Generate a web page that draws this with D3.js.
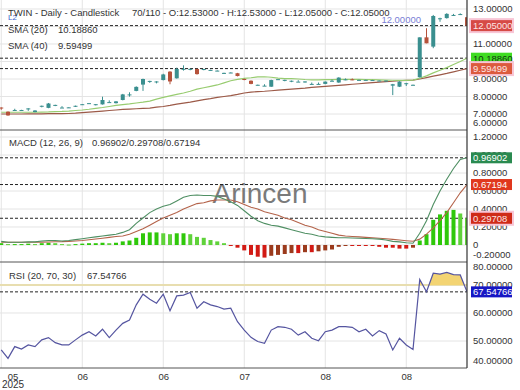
<!DOCTYPE html>
<html lang="en">
<head>
<meta charset="UTF-8">
<title>TWIN - Daily - Candlestick</title>
<style>
  body { margin: 0; background: #fff; }
  svg { display: block; font-family: "Liberation Sans", Arial, sans-serif; }
  .grid line { stroke: #e4e4e4; stroke-width: 1; }
  .axis text { font-size: 9.5px; fill: #333; }
  .legend { font-size: 9.5px; fill: #333; }
  .sep { stroke: #555; stroke-width: 1; }
</style>
</head>
<body>
<svg id="chart" width="520" height="390"></svg>
<script src="https://cdn.jsdelivr.net/npm/d3@7/dist/d3.min.js"></script>
<script>
// ---- data ----
const symbol = "TWIN";
const totalBars = 110;

const open = [
  7.37, 7.13, 7.21, 7.20, 7.30, 7.11, 7.44, 7.35, 7.50, 7.36,
  7.36, 7.45, 7.54, 7.60, 7.54, 7.55, 7.66, 7.62, 7.80, 8.08,
  8.32, 8.68, 8.87, 8.84, 8.94, 9.42, 9.04, 9.55, 9.56, 9.57,
  9.55, 9.50, 9.46, 9.30, 9.35, 9.33, 9.00, 8.90, 8.65, 8.60,
  8.56, 8.97, 8.93, 8.88, 8.84, 8.85, 8.70, 8.71, 8.72, 8.88,
  8.80, 8.97, 8.98, 8.94, 8.94, 8.93, 8.90, 8.90, 8.62, 8.56,
  8.73, 8.65, 9.10, 11.38, 10.85, 12.42, 12.48, 12.65, 12.70, 12.53
];
const high = [
  7.38, 7.15, 7.30, 7.24, 7.33, 7.22, 7.48, 7.63, 7.53, 7.45,
  7.39, 7.48, 7.57, 7.63, 7.57, 7.99, 7.78, 7.74, 8.15, 8.24,
  8.58, 9.02, 8.90, 8.87, 9.30, 9.45, 9.65, 9.78, 9.59, 9.60,
  9.58, 9.53, 9.49, 9.36, 9.38, 9.35, 9.02, 8.92, 8.68, 8.70,
  8.96, 9.00, 8.96, 8.91, 8.93, 8.87, 8.80, 8.80, 8.86, 8.97,
  9.10, 9.03, 9.03, 8.96, 8.96, 8.95, 8.92, 8.92, 8.72, 8.87,
  8.78, 8.68, 11.38, 11.90, 12.66, 12.50, 12.76, 12.72, 12.75, 12.53
];
const low = [
  7.24, 6.90, 7.20, 7.19, 7.18, 7.10, 7.38, 7.33, 7.45, 7.35,
  7.35, 7.40, 7.53, 7.59, 7.49, 7.54, 7.66, 7.60, 7.78, 7.99,
  8.30, 8.32, 8.78, 8.75, 8.92, 8.70, 9.02, 9.48, 9.50, 9.25,
  9.50, 9.49, 9.45, 9.29, 9.34, 9.15, 8.93, 8.70, 8.64, 8.60,
  8.55, 8.96, 8.87, 8.82, 8.84, 8.79, 8.70, 8.70, 8.70, 8.88,
  8.78, 8.93, 8.93, 8.93, 8.93, 8.92, 8.89, 8.89, 8.08, 8.54,
  8.60, 8.64, 9.08, 11.04, 10.76, 12.27, 12.45, 12.60, 12.66, 12.05
];
const close = [
  7.35, 6.92, 7.23, 7.23, 7.32, 7.20, 7.47, 7.60, 7.52, 7.37,
  7.38, 7.47, 7.56, 7.62, 7.56, 7.80, 7.68, 7.72, 8.12, 8.12,
  8.55, 9.00, 8.89, 8.86, 9.26, 8.86, 9.57, 9.58, 9.58, 9.28,
  9.57, 9.52, 9.48, 9.35, 9.37, 9.17, 8.95, 8.72, 8.67, 8.62,
  8.94, 8.99, 8.95, 8.90, 8.85, 8.86, 8.72, 8.72, 8.85, 8.90,
  9.08, 8.98, 8.97, 8.95, 8.95, 8.94, 8.91, 8.91, 8.70, 8.85,
  8.76, 8.67, 11.38, 11.04, 12.60, 12.47, 12.72, 12.66, 12.71, 12.05
];
const sma20 = [
  7.10, 7.10, 7.10, 7.10, 7.10, 7.10, 7.11, 7.12, 7.14, 7.15,
  7.17, 7.20, 7.23, 7.27, 7.32, 7.37, 7.43, 7.49, 7.54, 7.58,
  7.63, 7.68, 7.74, 7.85, 7.95, 8.04, 8.12, 8.20, 8.30, 8.42,
  8.50, 8.58, 8.66, 8.78, 8.90, 8.98, 9.04, 9.07, 9.12, 9.13,
  9.10, 9.05, 9.02, 9.02, 9.00, 8.97, 8.95, 8.95, 8.96, 8.97,
  8.98, 8.98, 8.98, 8.98, 8.97, 8.96, 8.95, 8.94, 8.93, 8.92,
  8.92, 8.94, 9.04, 9.18, 9.35, 9.50, 9.65, 9.83, 10.00, 10.1886
];
const sma40 = [
  7.00, 7.00, 7.00, 7.00, 7.01, 7.01, 7.01, 7.02, 7.02, 7.02,
  7.03, 7.05, 7.08, 7.11, 7.14, 7.17, 7.20, 7.23, 7.26, 7.28,
  7.30, 7.32, 7.34, 7.39, 7.43, 7.49, 7.56, 7.62, 7.68, 7.75,
  7.82, 7.88, 7.95, 8.00, 8.05, 8.12, 8.20, 8.25, 8.28, 8.30,
  8.33, 8.36, 8.39, 8.42, 8.45, 8.48, 8.52, 8.55, 8.58, 8.61,
  8.64, 8.67, 8.70, 8.73, 8.76, 8.79, 8.82, 8.85, 8.87, 8.90,
  8.92, 8.94, 9.00, 9.08, 9.16, 9.24, 9.32, 9.41, 9.50, 9.59499
];
const macd = [
  0.040, 0.030, 0.030, 0.030, 0.035, 0.035, 0.045, 0.050, 0.050, 0.045,
  0.050, 0.060, 0.070, 0.080, 0.090, 0.100, 0.110, 0.120, 0.140, 0.170,
  0.240, 0.300, 0.360, 0.400, 0.430, 0.450, 0.490, 0.530, 0.550, 0.555,
  0.550, 0.550, 0.540, 0.510, 0.480, 0.440, 0.380, 0.320, 0.270, 0.240,
  0.220, 0.210, 0.190, 0.170, 0.150, 0.130, 0.120, 0.100, 0.090, 0.085,
  0.080, 0.080, 0.078, 0.075, 0.073, 0.070, 0.065, 0.055, 0.040, 0.035,
  0.025, 0.020, 0.130, 0.270, 0.450, 0.600, 0.730, 0.850, 0.950, 0.96902
];
const signal = [
  0.030, 0.030, 0.030, 0.030, 0.030, 0.030, 0.032, 0.034, 0.036, 0.037,
  0.040, 0.045, 0.050, 0.058, 0.066, 0.075, 0.085, 0.095, 0.100, 0.120,
  0.150, 0.180, 0.220, 0.260, 0.300, 0.330, 0.360, 0.400, 0.430, 0.460,
  0.470, 0.490, 0.500, 0.500, 0.500, 0.480, 0.450, 0.420, 0.400, 0.370,
  0.350, 0.330, 0.300, 0.280, 0.250, 0.220, 0.200, 0.170, 0.150, 0.130,
  0.110, 0.100, 0.095, 0.090, 0.085, 0.080, 0.075, 0.070, 0.062, 0.055,
  0.048, 0.042, 0.065, 0.120, 0.190, 0.270, 0.360, 0.470, 0.580, 0.67194
];
const histogram = [
  0.020, 0.010, 0.010, 0.010, 0.015, 0.010, 0.020, 0.025, 0.020, 0.010,
  0.005, 0.010, 0.015, 0.020, 0.020, 0.025, 0.020, 0.025, 0.040, 0.050,
  0.080, 0.130, 0.140, 0.140, 0.130, 0.120, 0.130, 0.130, 0.120, 0.090,
  0.080, 0.055, 0.040, 0.020, -0.010, -0.030, -0.060, -0.110, -0.130, -0.140,
  -0.120, -0.110, -0.100, -0.090, -0.090, -0.080, -0.080, -0.070, -0.060, -0.050,
  -0.020, -0.010, -0.010, -0.010, -0.010, -0.010, -0.020, -0.030, -0.030, -0.040,
  -0.040, -0.030, 0.050, 0.120, 0.280, 0.340, 0.380, 0.390, 0.350, 0.29708
];
const rsi = [
  46.8, 43.8, 48.0, 47.1, 48.6, 48.0, 50.4, 51.2, 49.4, 48.6,
  48.6, 50.4, 52.1, 53.3, 51.8, 54.2, 51.2, 53.9, 56.3, 57.5,
  62.9, 66.7, 64.9, 63.5, 66.7, 60.8, 66.1, 66.4, 67.3, 61.7,
  64.0, 62.9, 62.3, 61.4, 61.7, 56.9, 53.9, 51.3, 49.8, 49.2,
  53.9, 55.1, 54.9, 54.2, 52.1, 53.3, 51.0, 50.1, 53.3, 53.9,
  55.1, 55.1, 54.9, 53.3, 54.2, 51.8, 53.7, 52.5, 46.8, 51.0,
  48.6, 47.0, 72.0, 67.6, 74.2, 73.9, 74.5, 73.7, 73.6, 67.54766
];

const tickIndex = [0, 12, 24, 36, 48, 60];
const tickLabel = ["05", "06", "06", "07", "08", "08"];
const yearLabel = "2025";
const priceTicks = [6, 7, 8, 9, 10, 11, 12, 13];
const macdTicks = [-0.2, 0, 0.2, 0.4, 0.6, 0.8, 1.0, 1.2];
const rsiTicks = [40, 50, 60, 70, 80];
const rsiUpper = 70;
const priceLevel = 12.0;

// ---- layout ----
const svg = d3.select("#chart");
const plotRight = 467;
const P = { price: [0, 130], macd: [130, 262], rsi: [262, 368] };
const n = close.length;
const last = n - 1;
const f5 = d3.format(".5f");

const x = d3.scaleLinear().domain([0, last]).range([1.25, plotRight]);
const yPrice = d3.scaleLinear().domain([6.086, 13.514]).range([P.price[1], P.price[0]]);
const yMacd = d3.scaleLinear().domain([-0.189, 1.278]).range([P.macd[1], P.macd[0]]);
const yRsi = d3.scaleLinear().domain([40.36, 78.21]).range([P.rsi[1], P.rsi[0]]);

const defs = svg.append("defs");
Object.entries(P).forEach(([k, [t, b]]) => {
  defs.append("clipPath").attr("id", "clip-" + k)
    .append("rect").attr("x", 0).attr("y", t).attr("width", plotRight).attr("height", b - t);
});
defs.append("clipPath").attr("id", "clip-rsi-over")
  .append("rect").attr("x", 0).attr("y", P.rsi[0]).attr("width", plotRight)
  .attr("height", yRsi(rsiUpper) - P.rsi[0]);

// gridlines
function grid(range, scale, ticks) {
  const g = svg.append("g").attr("class", "grid");
  g.selectAll(".v").data(tickIndex).join("line")
    .attr("x1", d => x(d)).attr("x2", d => x(d))
    .attr("y1", range[0]).attr("y2", range[1]);
  g.selectAll(".h").data(ticks.filter(t => scale(t) > range[0] && scale(t) < range[1])).join("line")
    .attr("x1", 0).attr("x2", plotRight)
    .attr("y1", d => scale(d)).attr("y2", d => scale(d));
}
grid(P.price, yPrice, priceTicks);
grid(P.macd, yMacd, macdTicks);
grid(P.rsi, yRsi, rsiTicks);

// watermark
svg.append("text").attr("x", 260).attr("y", 203).attr("text-anchor", "middle")
  .attr("font-size", 28).attr("fill", "#7a7a7a").text("Arincen");

// dashed last-value lines
function dashed(y) {
  svg.append("line").attr("x1", 0).attr("x2", plotRight).attr("y1", y).attr("y2", y)
    .attr("stroke", "#222").attr("stroke-width", 1).attr("stroke-dasharray", "3,2");
}
[yPrice(close[last]), yPrice(sma20[last]), yPrice(sma40[last]),
 yMacd(macd[last]), yMacd(signal[last]), yMacd(histogram[last]),
 yRsi(rsi[last])].forEach(dashed);

// ---- price panel ----
const gp = svg.append("g").attr("clip-path", "url(#clip-price)");
const idx = d3.range(n);
const smaLine = arr => d3.line().x(i => x(i)).y(i => yPrice(arr[i]));
gp.append("path").datum(idx).attr("d", smaLine(sma40))
  .attr("fill", "none").attr("stroke", "#9c5a48").attr("stroke-width", 1.2);
gp.append("path").datum(idx).attr("d", smaLine(sma20))
  .attr("fill", "none").attr("stroke", "#98cc70").attr("stroke-width", 1.2);

const upCol = "#3a8f8f", downCol = "#b5523b";
const candle = gp.selectAll(".candle").data(idx).join("g")
  .attr("fill", i => close[i] >= open[i] ? upCol : downCol)
  .attr("stroke", i => close[i] >= open[i] ? upCol : downCol);
candle.append("line")
  .attr("x1", i => x(i)).attr("x2", i => x(i))
  .attr("y1", i => yPrice(high[i])).attr("y2", i => yPrice(low[i]))
  .attr("stroke-width", 1);
candle.append("rect")
  .attr("x", i => x(i) - 2).attr("width", 4)
  .attr("y", i => yPrice(Math.max(open[i], close[i])))
  .attr("height", i => Math.max(1, Math.abs(yPrice(open[i]) - yPrice(close[i]))))
  .attr("stroke", "none");

svg.append("text").attr("x", 421).attr("y", 22.5).attr("text-anchor", "end")
  .attr("font-size", 9.5).attr("fill", "#7b7fd6").text(f5(priceLevel));

// ---- MACD panel ----
const gm = svg.append("g").attr("clip-path", "url(#clip-macd)");
gm.selectAll(".bar").data(idx).join("rect")
  .attr("x", i => x(i) - 2).attr("width", 4)
  .attr("y", i => yMacd(Math.max(0, histogram[i])))
  .attr("height", i => Math.max(1, Math.abs(yMacd(histogram[i]) - yMacd(0))))
  .attr("fill", i => {
    const prev = i > 0 ? histogram[i - 1] : histogram[i];
    if (histogram[i] >= 0) return histogram[i] >= prev ? "#2fc80a" : "#5fd23a";
    return histogram[i] <= prev ? "#d21a14" : "#9b3a1c";
  });
const mline = arr => d3.line().x(i => x(i)).y(i => yMacd(arr[i]));
gm.append("path").datum(idx).attr("d", mline(signal))
  .attr("fill", "none").attr("stroke", "#b4634a").attr("stroke-width", 1.1);
gm.append("path").datum(idx).attr("d", mline(macd))
  .attr("fill", "none").attr("stroke", "#4f8f63").attr("stroke-width", 1.1);

// ---- RSI panel ----
const gr = svg.append("g").attr("clip-path", "url(#clip-rsi)");
gr.append("line").attr("x1", 0).attr("x2", plotRight)
  .attr("y1", yRsi(rsiUpper)).attr("y2", yRsi(rsiUpper))
  .attr("stroke", "#e8deb0").attr("stroke-width", 2);
gr.append("g").attr("clip-path", "url(#clip-rsi-over)")
  .append("path").datum(idx)
  .attr("d", d3.area().x(i => x(i)).y0(yRsi(rsiUpper)).y1(i => yRsi(rsi[i])))
  .attr("fill", "#f3d473");
gr.append("path").datum(idx)
  .attr("d", d3.line().x(i => x(i)).y(i => yRsi(rsi[i])))
  .attr("fill", "none").attr("stroke", "#5555a0").attr("stroke-width", 1.2);

// ---- frame ----
[P.price[1], P.macd[1], P.rsi[1]].forEach(y =>
  svg.append("line").attr("class", "sep").attr("x1", 0).attr("x2", plotRight).attr("y1", y).attr("y2", y));
svg.append("line").attr("x1", plotRight).attr("x2", plotRight).attr("y1", 0).attr("y2", P.rsi[1])
  .attr("stroke", "#333").attr("stroke-width", 1.2);

// ---- right axes ----
function rightAxis(scale, ticks, range, fmt) {
  const g = svg.append("g").attr("class", "axis").attr("transform", `translate(${plotRight + 2},0)`)
    .call(d3.axisRight(scale).tickValues(ticks).tickFormat(fmt).tickSize(0).tickPadding(4));
  g.select(".domain").remove();
  g.selectAll(".tick").attr("transform", d =>
    `translate(0,${Math.max(range[0] + 5, Math.min(range[1] - 7, scale(d)))})`);
}
rightAxis(yPrice, priceTicks, P.price, f5);
rightAxis(yMacd, macdTicks, P.macd, d => d === 0 ? "0" : f5(d).replace("\u2212", "-"));
rightAxis(yRsi, rsiTicks, P.rsi, f5);

function marker(y, text, bg, fg, halo) {
  const g = svg.append("g");
  if (halo) g.append("rect").attr("x", plotRight + 2).attr("y", y - 7.5).attr("width", 45).attr("height", 15)
    .attr("fill", "#f8c6d6");
  g.append("rect").attr("x", plotRight + 4).attr("y", y - 5.5).attr("width", 41).attr("height", 11)
    .attr("fill", bg);
  g.append("text").attr("x", plotRight + 6).attr("y", y).attr("dy", "0.35em")
    .attr("font-size", 9.5).attr("fill", fg).text(text);
}
marker(yPrice(close[last]), f5(close[last]), "#d64a45", "#fde4e4", true);
marker(yPrice(sma20[last]), f5(sma20[last]), "#3fdc22", "#123312", false);
marker(yPrice(sma40[last]), f5(sma40[last]), "#dc5a3e", "#fde4e4", true);
marker(yMacd(macd[last]), f5(macd[last]), "#2a8a50", "#ffffff", false);
marker(yMacd(signal[last]), f5(signal[last]), "#e0381e", "#ffffff", false);
marker(yMacd(histogram[last]), f5(histogram[last]), "#cf2a18", "#fde4e4", true);
marker(yRsi(rsi[last]), f5(rsi[last]), "#1616c4", "#ffffff", false);

// ---- bottom axis ----
const gx = svg.append("g").attr("class", "axis").attr("transform", `translate(0,${P.rsi[1]})`)
  .call(d3.axisBottom(x).tickValues(tickIndex).tickFormat((d, i) => tickLabel[i]).tickSize(0).tickPadding(5));
gx.select(".domain").remove();
gx.selectAll(".tick text").attr("font-size", 10);
gx.selectAll(".tick").filter((d, i) => i === 0).attr("transform", "translate(13,0)");
svg.append("text").attr("class", "axis").attr("x", 13).attr("y", 388).attr("text-anchor", "middle")
  .attr("font-size", 10).attr("fill", "#333").text(yearLabel);

// ---- legends ----
const leg = svg.append("g").attr("class", "legend");
leg.append("text").attr("x", 8).attr("y", 20).attr("font-size", 8).attr("fill", "#3d5fd0").text("L2");
leg.append("text").attr("x", 8).attr("y", 16).text(`${symbol} - Daily - Candlestick`);
leg.append("text").attr("x", 132).attr("y", 16)
  .text(`${n}/${totalBars} - O:${f5(open[last])} - H:${f5(high[last])} - L:${f5(low[last])} - C:${f5(close[last])}`);
leg.append("text").attr("x", 8).attr("y", 33).text("SMA (20)");
leg.append("text").attr("x", 58).attr("y", 33).text(f5(sma20[last]));
leg.append("text").attr("x", 8).attr("y", 49).text("SMA (40)");
leg.append("text").attr("x", 58).attr("y", 49).text(f5(sma40[last]));
leg.append("text").attr("x", 9).attr("y", 146).text("MACD (12, 26, 9)");
leg.append("text").attr("x", 92).attr("y", 146)
  .text(`${f5(macd[last])}/${f5(histogram[last])}/${f5(signal[last])}`);
leg.append("text").attr("x", 9).attr("y", 278.5).text("RSI (20, 70, 30)");
leg.append("text").attr("x", 87).attr("y", 278.5).text(f5(rsi[last]));
</script>
</body>
</html>
